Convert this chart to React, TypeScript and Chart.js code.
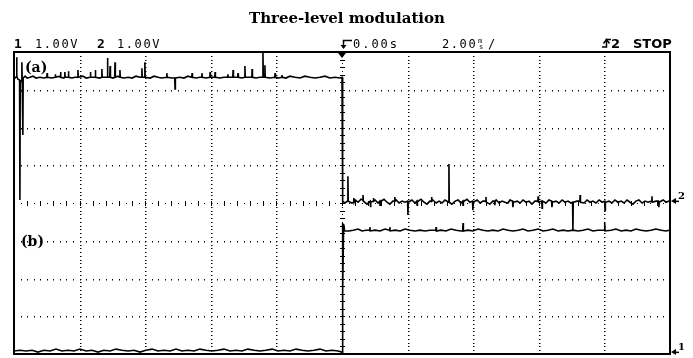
import { useEffect, useRef } from 'react';
import { Chart, registerables } from 'chart.js';

Chart.register(...registerables);

// ---- Scope settings ----
const TITLE = 'Three-level modulation';
const timeMin = -10; // ms (2.00 ms/div, 0.00 s at centre)
const timeMax = 10;
const ch1GroundDiv = -3.95; // ground marker "1" (bottom)
const ch2GroundDiv = 0.05; // ground marker "2" (middle)
const voltsPerDiv = 1.0;

// ---- Channel 2, trace (a): [time ms, volts] ----
const ch2Trace: [number, number][] = [
  [-10.0, 3.26], [-9.97, 3.28], [-9.93, 3.28], [-9.92, 3.81], [-9.91, 3.31], [-9.88, 3.23],
  [-9.83, 3.21], [-9.82, 0.03], [-9.81, 3.15], [-9.77, 3.2], [-9.76, 3.68], [-9.75, 3.2],
  [-9.73, 1.75], [-9.72, 3.26], [-9.66, 3.31], [-9.6, 3.26], [-9.51, 3.28], [-9.42, 3.31],
  [-9.33, 3.26], [-9.21, 3.28], [-9.09, 3.26], [-9.0, 3.28], [-8.99, 3.39], [-8.98, 3.28],
  [-8.84, 3.26], [-8.75, 3.28], [-8.74, 3.36], [-8.73, 3.28], [-8.6, 3.31], [-8.59, 3.28],
  [-8.58, 3.42], [-8.57, 3.28], [-8.48, 3.26], [-8.46, 3.28], [-8.45, 3.42], [-8.44, 3.28],
  [-8.35, 3.28], [-8.34, 3.44], [-8.33, 3.28], [-8.23, 3.26], [-8.14, 3.28], [-8.06, 3.28],
  [-8.05, 3.47], [-8.04, 3.28], [-7.9, 3.31], [-7.8, 3.26], [-7.68, 3.28], [-7.67, 3.42],
  [-7.66, 3.28], [-7.53, 3.28], [-7.52, 3.47], [-7.51, 3.28], [-7.38, 3.26], [-7.33, 3.28],
  [-7.32, 3.5], [-7.31, 3.28], [-7.16, 3.28], [-7.15, 3.79], [-7.14, 3.28], [-7.08, 3.28],
  [-7.07, 3.58], [-7.06, 3.28], [-6.98, 3.26], [-6.93, 3.28], [-6.92, 3.68], [-6.91, 3.28],
  [-6.83, 3.31], [-6.78, 3.28], [-6.77, 3.47], [-6.76, 3.28], [-6.65, 3.26], [-6.52, 3.28],
  [-6.4, 3.26], [-6.28, 3.31], [-6.16, 3.28], [-6.11, 3.28], [-6.1, 3.52], [-6.09, 3.28],
  [-6.02, 3.28], [-6.01, 3.68], [-6.0, 3.28], [-5.85, 3.26], [-5.73, 3.31], [-5.61, 3.28],
  [-5.49, 3.26], [-5.35, 3.28], [-5.34, 3.39], [-5.33, 3.28], [-5.18, 3.26], [-5.1, 3.26],
  [-5.09, 2.97], [-5.08, 3.26], [-4.94, 3.28], [-4.82, 3.26], [-4.7, 3.31], [-4.58, 3.28],
  [-4.57, 3.39], [-4.56, 3.28], [-4.45, 3.26], [-4.33, 3.28], [-4.28, 3.28], [-4.27, 3.39],
  [-4.26, 3.28], [-4.15, 3.26], [-4.03, 3.28], [-4.02, 3.42], [-4.01, 3.28], [-3.88, 3.28],
  [-3.87, 3.42], [-3.86, 3.28], [-3.72, 3.26], [-3.6, 3.28], [-3.49, 3.28], [-3.48, 3.36],
  [-3.47, 3.28], [-3.33, 3.28], [-3.32, 3.47], [-3.31, 3.28], [-3.18, 3.28], [-3.17, 3.39],
  [-3.16, 3.28], [-3.05, 3.26], [-2.97, 3.28], [-2.96, 3.58], [-2.95, 3.28], [-2.84, 3.28],
  [-2.75, 3.28], [-2.74, 3.5], [-2.73, 3.28], [-2.62, 3.26], [-2.5, 3.28], [-2.42, 3.28],
  [-2.41, 3.95], [-2.4, 3.28], [-2.36, 3.28], [-2.35, 3.6], [-2.34, 3.28], [-2.2, 3.26],
  [-2.05, 3.28], [-2.04, 3.39], [-2.03, 3.28], [-1.92, 3.26], [-1.84, 3.28], [-1.83, 3.34],
  [-1.82, 3.28], [-1.71, 3.26], [-1.59, 3.31], [-1.43, 3.28], [-1.28, 3.26], [-1.13, 3.31],
  [-0.98, 3.28], [-0.82, 3.26], [-0.67, 3.28], [-0.52, 3.31], [-0.37, 3.26], [-0.21, 3.28],
  [-0.06, 3.26], [0.0, 3.28], [0.01, 0.0],
  [0.03, 0.0], [0.09, -0.05], [0.17, 0.0], [0.18, 0.66], [0.19, 0.0], [0.3, -0.05],
  [0.35, -0.03], [0.36, 0.08], [0.37, -0.03], [0.4, 0.03], [0.49, -0.03], [0.58, 0.05],
  [0.63, 0.03], [0.64, 0.16], [0.65, 0.0], [0.76, -0.08], [0.86, 0.0], [0.87, -0.16],
  [0.88, -0.03], [0.95, 0.0], [0.96, 0.08], [0.97, 0.0], [1.01, 0.03], [1.1, -0.05],
  [1.15, 0.0], [1.16, -0.11], [1.17, 0.0], [1.19, 0.0], [1.28, 0.05], [1.37, -0.03],
  [1.46, -0.08], [1.55, 0.0], [1.6, 0.0], [1.61, 0.11], [1.62, 0.0], [1.65, 0.03],
  [1.74, -0.05], [1.83, 0.0], [1.92, -0.03], [2.0, 0.0], [2.01, -0.37], [2.02, -0.03],
  [2.13, 0.03], [2.23, -0.05], [2.28, 0.0], [2.29, -0.11], [2.3, 0.0], [2.32, 0.0],
  [2.41, 0.05], [2.5, -0.03], [2.59, -0.08], [2.68, 0.0], [2.72, 0.0], [2.73, 0.11],
  [2.74, 0.0], [2.77, 0.03], [2.87, -0.05], [2.96, 0.0], [3.05, -0.05], [3.14, 0.03],
  [3.25, -0.03], [3.26, 0.98], [3.27, -0.03], [3.35, -0.08], [3.45, 0.0], [3.54, 0.03],
  [3.63, -0.05], [3.68, 0.0], [3.69, -0.11], [3.7, 0.0], [3.72, 0.0], [3.81, 0.05],
  [3.9, -0.03], [3.98, 0.0], [3.99, -0.24], [4.0, -0.03], [4.12, 0.03], [4.21, -0.05],
  [4.3, 0.0], [4.38, 0.0], [4.39, 0.11], [4.4, -0.03], [4.51, -0.08], [4.6, 0.0],
  [4.65, 0.0], [4.66, -0.11], [4.67, 0.0], [4.7, 0.03], [4.79, -0.05], [4.88, 0.0],
  [4.97, -0.03], [5.06, -0.05], [5.12, 0.03], [5.2, 0.0], [5.21, -0.16], [5.22, -0.03],
  [5.34, 0.0], [5.43, -0.05], [5.52, 0.03], [5.61, -0.03], [5.7, 0.0], [5.79, -0.08],
  [5.88, 0.0], [5.97, 0.0], [5.98, 0.13], [5.99, -0.03], [6.09, 0.0], [6.1, -0.19],
  [6.11, 0.0], [6.22, -0.05], [6.31, 0.03], [6.39, 0.0], [6.4, -0.16], [6.41, -0.03],
  [6.52, 0.0], [6.62, -0.05], [6.71, 0.03], [6.8, -0.03], [6.89, 0.0], [6.98, -0.05],
  [7.03, -0.03], [7.04, -0.77], [7.05, -0.03], [7.16, 0.0], [7.25, 0.0], [7.26, 0.16],
  [7.27, -0.03], [7.38, -0.05], [7.47, 0.03], [7.56, -0.03], [7.65, 0.0], [7.74, -0.05],
  [7.84, 0.03], [7.93, -0.03], [8.01, 0.0], [8.02, -0.24], [8.03, -0.03], [8.14, 0.0],
  [8.23, -0.05], [8.32, 0.03], [8.41, -0.03], [8.51, 0.0], [8.6, -0.05], [8.69, 0.03],
  [8.78, -0.03], [8.87, -0.08], [8.96, 0.0], [9.05, 0.03], [9.15, -0.05], [9.24, 0.0],
  [9.33, -0.03], [9.44, 0.0], [9.45, 0.13], [9.46, -0.03], [9.57, 0.0], [9.65, 0.0],
  [9.66, -0.16], [9.67, -0.03], [9.79, 0.03], [9.88, -0.03], [9.97, 0.0],
];

// ---- Channel 1, trace (b): [time ms, volts] ----
const ch1Trace: [number, number][] = [
  [-10.0, 0.03], [-9.82, 0.05], [-9.63, 0.03], [-9.45, 0.05], [-9.27, 0.0], [-9.09, 0.05],
  [-8.9, 0.03], [-8.72, 0.08], [-8.54, 0.03], [-8.35, 0.05], [-8.17, 0.03], [-7.99, 0.08],
  [-7.8, 0.03], [-7.62, 0.05], [-7.44, 0.0], [-7.26, 0.05], [-7.07, 0.03], [-6.89, 0.08],
  [-6.71, 0.05], [-6.52, 0.03], [-6.34, 0.05], [-6.16, 0.0], [-5.98, 0.05], [-5.79, 0.08],
  [-5.61, 0.03], [-5.43, 0.05], [-5.24, 0.03], [-5.06, 0.08], [-4.88, 0.03], [-4.7, 0.05],
  [-4.51, 0.03], [-4.33, 0.08], [-4.15, 0.05], [-3.96, 0.03], [-3.78, 0.05], [-3.6, 0.08],
  [-3.41, 0.03], [-3.23, 0.05], [-3.05, 0.03], [-2.87, 0.08], [-2.68, 0.05], [-2.5, 0.03],
  [-2.32, 0.05], [-2.13, 0.08], [-1.95, 0.03], [-1.77, 0.05], [-1.59, 0.03], [-1.4, 0.08],
  [-1.22, 0.05], [-1.04, 0.03], [-0.85, 0.05], [-0.67, 0.08], [-0.49, 0.03], [-0.3, 0.05],
  [-0.12, 0.03], [0.0, 0.0], [0.01, 3.42], [0.03, 1.64], [0.05, 3.39], [0.08, 3.21],
  [0.21, 3.21], [0.34, 3.23], [0.49, 3.26], [0.61, 3.21], [0.73, 3.23], [0.84, 3.23],
  [0.85, 3.31], [0.86, 3.21], [1.01, 3.23], [1.16, 3.21], [1.31, 3.26], [1.45, 3.23],
  [1.46, 3.31], [1.47, 3.21], [1.62, 3.23], [1.77, 3.21], [1.92, 3.26], [2.07, 3.23],
  [2.23, 3.21], [2.38, 3.23], [2.53, 3.21], [2.68, 3.23], [2.86, 3.23], [2.87, 3.31],
  [2.88, 3.21], [3.02, 3.23], [3.17, 3.21], [3.32, 3.26], [3.48, 3.23], [3.63, 3.21],
  [3.68, 3.21], [3.69, 3.42], [3.7, 3.21], [3.84, 3.23], [3.99, 3.21], [4.15, 3.26],
  [4.3, 3.23], [4.45, 3.21], [4.6, 3.23], [4.76, 3.21], [4.91, 3.26], [5.06, 3.23],
  [5.21, 3.21], [5.37, 3.23], [5.52, 3.26], [5.67, 3.21], [5.82, 3.23], [5.98, 3.26],
  [6.13, 3.21], [6.28, 3.23], [6.43, 3.26], [6.59, 3.21], [6.74, 3.23], [6.89, 3.21],
  [7.04, 3.23], [7.2, 3.21], [7.35, 3.23], [7.5, 3.26], [7.65, 3.21], [7.8, 3.23],
  [8.0, 3.23], [8.01, 3.42], [8.02, 3.21], [8.2, 3.23], [8.35, 3.26], [8.51, 3.21],
  [8.66, 3.23], [8.81, 3.21], [8.96, 3.26], [9.12, 3.23], [9.27, 3.21], [9.42, 3.23],
  [9.57, 3.26], [9.73, 3.23], [9.88, 3.21], [9.97, 3.23],
];

const HEADER_LEFT = ['1', '1.00V', '2', '1.00V'];
const HEADER_TIME = ['0.00s', '2.00', '/'];
const HEADER_RIGHT = ['2', 'STOP'];
const TRACE_LABELS = ['(a)', '(b)'];

const MONO = '"DejaVu Sans Mono", "Liberation Mono", monospace';
const SANS = '"DejaVu Sans", "Liberation Sans", sans-serif';
const SERIF = '"DejaVu Serif", "Liberation Serif", serif';

function spaced(ctx: CanvasRenderingContext2D, s: string, x: number, y: number, step: number) {
  for (let i = 0; i < s.length; i++) ctx.fillText(s[i], x + i * step, y);
}

const scopePlugin = {
  id: 'scope',
  beforeDatasetsDraw(chart: any) {
    const { ctx, chartArea: a } = chart;
    const dx = (a.right - a.left) / 10;
    const dy = (a.bottom - a.top) / 8;
    ctx.save();
    ctx.fillStyle = '#000';
    for (let k = 1; k < 8; k++) {
      const y = Math.round(a.top + k * dy);
      for (let i = 1; i < 100; i++) {
        const x = Math.round(a.left + (i * dx) / 10);
        if (k === 4) {
          if (i % 2 === 0) ctx.fillRect(x, y - 2, 1, 5);
          else ctx.fillRect(x, y, 1, 1);
        } else {
          ctx.fillRect(x, y, 1, 1.5);
        }
      }
    }
    for (let j = 1; j < 10; j++) {
      const x = Math.round(a.left + j * dx);
      for (let i = 1; i < 80; i++) {
        const y = Math.round(a.top + (i * dy) / 10);
        if (j === 5) {
          if (i % 2 === 0) ctx.fillRect(x - 2, y, 5, 1);
          else ctx.fillRect(x, y, 1, 1);
        } else {
          ctx.fillRect(x, y, 1.5, 1);
        }
      }
    }
    ctx.restore();
  },
  afterDatasetsDraw(chart: any) {
    const { ctx, chartArea: a } = chart;
    ctx.save();
    ctx.strokeStyle = '#000';
    ctx.fillStyle = '#000';
    ctx.lineWidth = 2;
    ctx.strokeRect(a.left, a.top, a.right - a.left, a.bottom - a.top);
    const cx = Math.round((a.left + a.right) / 2);

    // title
    ctx.font = `bold 15px ${SERIF}`;
    ctx.textAlign = 'center';
    ctx.textBaseline = 'alphabetic';
    ctx.fillText(TITLE, 347, 23);

    // header
    ctx.textAlign = 'left';
    const by = 47.5;
    ctx.font = `bold 13px ${MONO}`;
    ctx.fillText(HEADER_LEFT[0], 14, by);
    ctx.font = `12px ${MONO}`;
    spaced(ctx, HEADER_LEFT[1], 35, by, 8.8);
    ctx.font = `bold 13px ${MONO}`;
    ctx.fillText(HEADER_LEFT[2], 97, by);
    ctx.font = `12px ${MONO}`;
    spaced(ctx, HEADER_LEFT[3], 117, by, 8.8);

    // trigger position marker
    ctx.lineWidth = 1.5;
    ctx.beginPath();
    ctx.moveTo(352, 40.5);
    ctx.lineTo(343.5, 40.5);
    ctx.lineTo(343.5, 48);
    ctx.stroke();
    ctx.beginPath();
    ctx.moveTo(340.5, 45);
    ctx.lineTo(346.5, 45);
    ctx.lineTo(343.5, 49);
    ctx.closePath();
    ctx.fill();

    ctx.font = `12px ${MONO}`;
    spaced(ctx, HEADER_TIME[0], 353, by, 9.2);
    spaced(ctx, HEADER_TIME[1], 442, by, 8.8);
    ctx.font = `7px ${MONO}`;
    ctx.fillText('m', 478, 42.5);
    ctx.fillText('s', 479, 48.5);
    ctx.font = `12px ${MONO}`;
    ctx.fillText(HEADER_TIME[2], 488, by);

    // trigger slope + source
    ctx.lineWidth = 1.5;
    ctx.beginPath();
    ctx.moveTo(602, 47);
    ctx.lineTo(606.5, 47);
    ctx.lineTo(606.5, 39.5);
    ctx.lineTo(611, 39.5);
    ctx.stroke();
    ctx.beginPath();
    ctx.moveTo(603.5, 43.5);
    ctx.lineTo(606.5, 39.5);
    ctx.lineTo(609.5, 43.5);
    ctx.stroke();
    ctx.font = `bold 13px ${SANS}`;
    ctx.fillText(HEADER_RIGHT[0], 611, by);
    ctx.fillText(HEADER_RIGHT[1], 633, by);

    // top trigger marker on centre line
    ctx.beginPath();
    ctx.moveTo(cx - 4, a.top + 1);
    ctx.lineTo(cx + 4, a.top + 1);
    ctx.lineTo(cx, a.top + 6);
    ctx.closePath();
    ctx.fill();

    // ground markers on the right
    const gy2 = chart.scales.y2.getPixelForValue(0);
    const gy1 = chart.scales.y1.getPixelForValue(0);
    for (const [gy, lab] of [[gy2, '2'], [gy1, '1']] as [number, string][]) {
      ctx.beginPath();
      ctx.moveTo(a.right + 1, gy);
      ctx.lineTo(a.right + 6, gy - 3);
      ctx.lineTo(a.right + 6, gy + 3);
      ctx.closePath();
      ctx.fill();
      ctx.fillRect(a.right + 5, gy - 0.5, 4, 1.5);
      ctx.font = `bold 10px ${SERIF}`;
      ctx.fillText(lab, a.right + 8, gy - 2);
    }

    // trace labels
    ctx.font = `bold 14px ${SERIF}`;
    ctx.fillText(TRACE_LABELS[0], 25, 72);
    ctx.fillText(TRACE_LABELS[1], 21, 246);
    ctx.restore();
  },
};

export default function App() {
  const ref = useRef<HTMLCanvasElement | null>(null);
  useEffect(() => {
    if (!ref.current) return;
    const ch1Min = (-4 - ch1GroundDiv) * voltsPerDiv;
    const ch2Min = (-4 - ch2GroundDiv) * voltsPerDiv;
    const chart = new Chart(ref.current, {
      type: 'line',
      data: {
        datasets: [
          {
            label: 'CH2 (a)',
            data: ch2Trace.map(([t, v]) => ({ x: t, y: v })),
            yAxisID: 'y2',
            borderColor: '#000',
            borderWidth: 1.6,
            pointRadius: 0,
            tension: 0,
          },
          {
            label: 'CH1 (b)',
            data: ch1Trace.map(([t, v]) => ({ x: t, y: v })),
            yAxisID: 'y1',
            borderColor: '#000',
            borderWidth: 1.6,
            pointRadius: 0,
            tension: 0,
          },
        ],
      },
      options: {
        animation: false,
        responsive: false,
        events: [],
        layout: { padding: { left: 14, right: 23, top: 52, bottom: 4 } },
        plugins: { legend: { display: false }, tooltip: { enabled: false } },
        scales: {
          x: { type: 'linear', min: timeMin, max: timeMax, display: false },
          y1: { type: 'linear', min: ch1Min, max: ch1Min + 8 * voltsPerDiv, display: false },
          y2: { type: 'linear', min: ch2Min, max: ch2Min + 8 * voltsPerDiv, display: false },
        },
      },
      plugins: [scopePlugin],
    } as any);
    return () => chart.destroy();
  }, []);
  return (
    <div style={{ position: 'fixed', left: 0, top: 0, width: 693, height: 358, background: '#fff' }}>
      <canvas ref={ref} width={693} height={358} style={{ display: 'block' }} />
    </div>
  );
}
